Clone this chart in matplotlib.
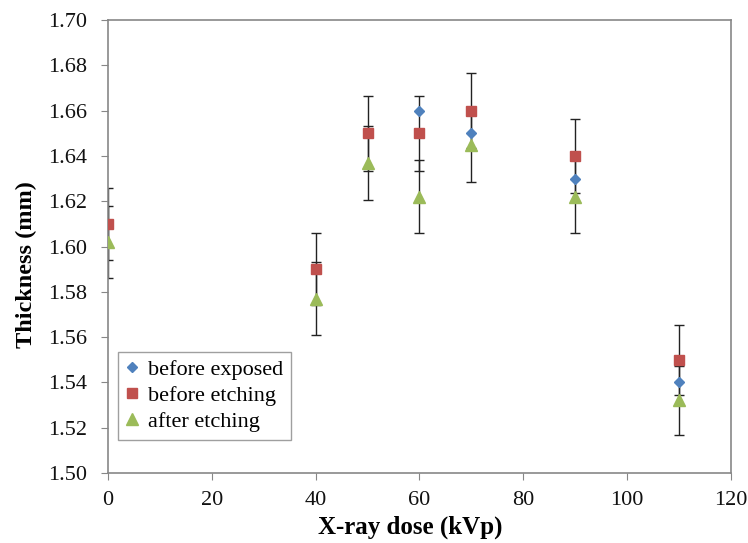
import numpy as np
import matplotlib.pyplot as plt

# x-ray dose (kVp)
dose = [0, 40, 50, 60, 70, 90, 110]

before_exposed = [1.61, 1.59, 1.65, 1.66, 1.65, 1.63, 1.54]
before_etching = [1.61, 1.59, 1.65, 1.65, 1.66, 1.64, 1.55]
after_etching = [1.602, 1.577, 1.637, 1.622, 1.645, 1.622, 1.532]

# error bar half widths
err_before_etching = [0.016, 0.016, 0.0165, 0.0165, 0.0166, 0.0164, 0.0155]
err_after_etching = [0.016, 0.016, 0.0164, 0.0162, 0.0165, 0.0162, 0.0153]

plt.rcParams['font.family'] = ['Liberation Serif', 'DejaVu Serif']

fig = plt.figure(figsize=(7.48, 5.43), dpi=100)
ax = fig.add_axes([0.1444, 0.129, 0.8326, 0.834])

ax.errorbar(dose, before_etching, yerr=err_before_etching, fmt='none',
            ecolor='#222222', elinewidth=1.0, capsize=3.5, capthick=1.0, zorder=2)
ax.errorbar(dose, after_etching, yerr=err_after_etching, fmt='none',
            ecolor='#222222', elinewidth=1.0, capsize=3.5, capthick=1.0, zorder=2)

ax.plot(dose, before_exposed, 'D', color='#4F81BD', ms=5.5, ls='none',
        label='before exposed', zorder=3)
ax.plot(dose, before_etching, 's', color='#C0504D', ms=7.5, ls='none',
        label='before etching', zorder=4)
ax.plot(dose, after_etching, '^', color='#9BBB59', ms=8, ls='none',
        label='after etching', zorder=5)

ax.set_xlim(0, 120)
ax.set_ylim(1.50, 1.70)
ax.set_xticks(np.arange(0, 121, 20))
ax.set_yticks(np.arange(1.50, 1.701, 0.02))
ax.yaxis.set_major_formatter(plt.FormatStrFormatter('%.2f'))

for s in ax.spines.values():
    s.set_color('#878787')
    s.set_linewidth(1.2)
ax.tick_params(direction='out', length=5, color='#878787', labelsize=16,
               labelcolor='#111111')
ax.tick_params(axis='y', pad=10)
ax.tick_params(axis='x', pad=8)

ax.set_xlabel('X-ray dose (kVp)', fontsize=18, fontweight='bold')
ax.set_ylabel('Thickness (mm)', fontsize=17.5, fontweight='bold')
ax.xaxis.set_label_coords(0.485, -0.094)
ax.yaxis.set_label_coords(-0.114, 0.46)

leg = ax.legend(loc='lower left', bbox_to_anchor=(0.016, 0.073), fontsize=16,
                frameon=True, fancybox=False, handlelength=0.6,
                handletextpad=0.4, borderpad=0.35, labelspacing=0.25,
                borderaxespad=0)
leg.get_frame().set_edgecolor('#878787')
leg.get_frame().set_linewidth(1.0)

fig.savefig('out.png', dpi=100)
